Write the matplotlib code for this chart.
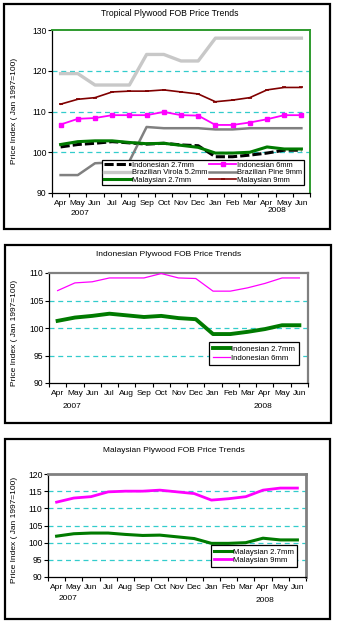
import numpy as np
import matplotlib
matplotlib.use("Agg")
import matplotlib.pyplot as plt
from matplotlib.patches import Rectangle

plt.rcParams["font.family"] = ["Liberation Sans Narrow", "Liberation Sans", "DejaVu Sans"]
plt.rcParams["font.size"] = 6

W, H = 339, 627

months = ["Apr", "May", "Jun", "Jul", "Aug", "Sep", "Oct", "Nov", "Dec",
          "Jan", "Feb", "Mar", "Apr", "May", "Jun"]

indo_27 = [101.3, 101.9, 102.2, 102.6, 102.3, 102.0, 102.2, 101.8, 101.6,
           98.9, 98.9, 99.3, 99.8, 100.5, 100.5]
indo_6 = [106.8, 108.2, 108.4, 109.1, 109.1, 109.1, 109.9, 109.1, 109.0,
          106.7, 106.7, 107.3, 108.1, 109.1, 109.1]
virola_52 = [119.3, 119.3, 116.5, 116.5, 116.5, 124.0, 124.0, 122.4, 122.4,
             128.0, 128.0, 128.0, 128.0, 128.0, 128.0]
pine_9 = [94.4, 94.4, 97.3, 97.5, 97.8, 106.2, 105.9, 105.9, 105.9,
          105.6, 105.6, 105.9, 105.9, 105.9, 105.9]
malay_27 = [101.9, 102.6, 102.8, 102.8, 102.4, 102.1, 102.2, 101.7, 101.2,
            99.8, 99.8, 100.0, 101.3, 100.8, 100.8]
malay_9 = [111.8, 113.0, 113.4, 114.8, 115.0, 115.0, 115.3, 114.8, 114.3,
           112.4, 112.8, 113.4, 115.3, 115.9, 115.9]

YLABEL = "Price Index ( Jan 1997=100)"
GRID = "#33CCCC"

fig = plt.figure(figsize=(W / 100, H / 100), dpi=100)


def px_axes(x0, y0, x1, y1):
    """Axes from pixel box (top-left origin)."""
    return fig.add_axes([x0 / W, 1 - y1 / H, (x1 - x0) / W, (y1 - y0) / H])


def frame(x0, y0, x1, y1):
    fig.add_artist(Rectangle((x0 / W, 1 - y1 / H), (x1 - x0) / W, (y1 - y0) / H,
                             transform=fig.transFigure, fill=False,
                             edgecolor="black", linewidth=1.6))


def ftext(x, y, s, **kw):
    fig.text(x / W, 1 - y / H, s, ha="center", va="center", **kw)


def style_axes(ax, ymin, ymax, step, grid_levels, border_col, border_lw):
    x = np.arange(len(months))
    ax.set_xlim(-0.5, len(months) - 0.5)
    ax.set_ylim(ymin, ymax)
    ax.set_yticks(np.arange(ymin, ymax + 1, step))
    ax.set_xticks(np.arange(-0.5, len(months)), labels=[])
    ax.set_xticks(x, labels=months, minor=True)
    ax.tick_params(axis="x", which="major", direction="out", length=3, width=0.8)
    ax.tick_params(axis="x", which="minor", length=0, pad=5, labelsize=6)
    ax.tick_params(axis="y", direction="out", length=3, width=0.8, pad=1, labelsize=6.2)
    for lv in grid_levels:
        ax.axhline(lv, color=GRID, lw=0.9, ls=(0, (4, 3)), zorder=1)
    for side in ("top", "right"):
        ax.spines[side].set_color(border_col)
        ax.spines[side].set_linewidth(border_lw)
    for side in ("left", "bottom"):
        ax.spines[side].set_color("black")
        ax.spines[side].set_linewidth(0.9)
    return x


def boxed_legend(ax, handles, labels, x0, y0, **kw):
    leg = ax.legend(handles, labels, loc="upper left",
                    bbox_to_anchor=(x0 / W, 1 - y0 / H),
                    bbox_transform=fig.transFigure, borderaxespad=0,
                    frameon=True, fancybox=False, framealpha=1,
                    edgecolor="black", **kw)
    leg.get_frame().set_linewidth(0.9)
    return leg


# ---------- Tropical plywood (all series) ----------
frame(4, 4, 330, 229)
ftext(170, 14, "Tropical Plywood FOB Price Trends", fontsize=6.2)
ax1 = px_axes(52, 30, 310, 193)
x = style_axes(ax1, 90, 130, 10, [100, 110, 120], "#2E9A2E", 1.4)
h_i27, = ax1.plot(x, indo_27, color="black", lw=2.2, ls=(0, (3, 1)), zorder=3)
h_i6, = ax1.plot(x, indo_6, color="#FF00FF", lw=1.3, marker="s", ms=3.2, zorder=4)
h_vir, = ax1.plot(x, virola_52, color="#C8C8C8", lw=2.4, zorder=3)
h_pin, = ax1.plot(x, pine_9, color="#808080", lw=1.8, zorder=3)
h_m27, = ax1.plot(x, malay_27, color="#007A00", lw=2.2, zorder=4)
h_m9, = ax1.plot(x, malay_9, color="#800000", lw=1.2, marker="_", ms=3, mew=1.2, zorder=4)
boxed_legend(ax1, [h_i27, h_vir, h_m27, h_i6, h_pin, h_m9],
             ["Indonesian 2.7mm", "Brazilian Virola 5.2mm", "Malaysian 2.7mm",
              "Indonesian 6mm", "Brazilian Pine 9mm", "Malaysian 9mm"],
             102, 160, ncol=2, fontsize=5.4, handlelength=3.6,
             handletextpad=0.1, labelspacing=0.0, columnspacing=0.3,
             borderpad=0.25)
ftext(15, 111, YLABEL, rotation=90, fontsize=6)
ftext(80, 214, "2007", fontsize=6)
ftext(277, 210, "2008", fontsize=6)

# ---------- Indonesian plywood ----------
frame(5, 245, 331, 423)
ftext(169, 255, "Indonesian Plywood FOB Price Trends", fontsize=6)
ax2 = px_axes(49, 273, 308, 383)
x = style_axes(ax2, 90, 110, 5, [95, 100, 105], "#808080", 1.6)
g2, = ax2.plot(x, indo_27, color="#007A00", lw=2.8, zorder=3)
m2, = ax2.plot(x, indo_6, color="#FF00FF", lw=0.9, zorder=3)
boxed_legend(ax2, [g2, m2], ["Indonesian 2.7mm", "Indonesian 6mm"],
             209, 342, fontsize=5.6, handlelength=2.3, handletextpad=0.1,
             labelspacing=0.15, borderpad=0.45)
ftext(15, 333, YLABEL, rotation=90, fontsize=6)
ftext(72, 407, "2007", fontsize=6)
ftext(263, 406, "2008", fontsize=6)

# ---------- Malaysian plywood ----------
frame(5, 439, 330, 619)
ftext(174, 450, "Malaysian Plywood FOB Price Trends", fontsize=6)
ax3 = px_axes(48, 474, 306, 577)
x = style_axes(ax3, 90, 120, 5, [95, 100, 105, 110, 115], "#808080", 2.0)
g3, = ax3.plot(x, malay_27, color="#007A00", lw=2.2, zorder=3)
m3, = ax3.plot(x, malay_9, color="#FF00FF", lw=2.0, zorder=3)
boxed_legend(ax3, [g3, m3], ["Malaysian 2.7mm", "Malaysian 9mm"],
             211, 545, fontsize=5.6, handlelength=2.3, handletextpad=0.1,
             labelspacing=0.15, borderpad=0.4)
ftext(15, 530, YLABEL, rotation=90, fontsize=6)
ftext(68, 598, "2007", fontsize=6)
ftext(265, 600, "2008", fontsize=6)

fig.savefig("out.png", dpi=100, facecolor="white")
